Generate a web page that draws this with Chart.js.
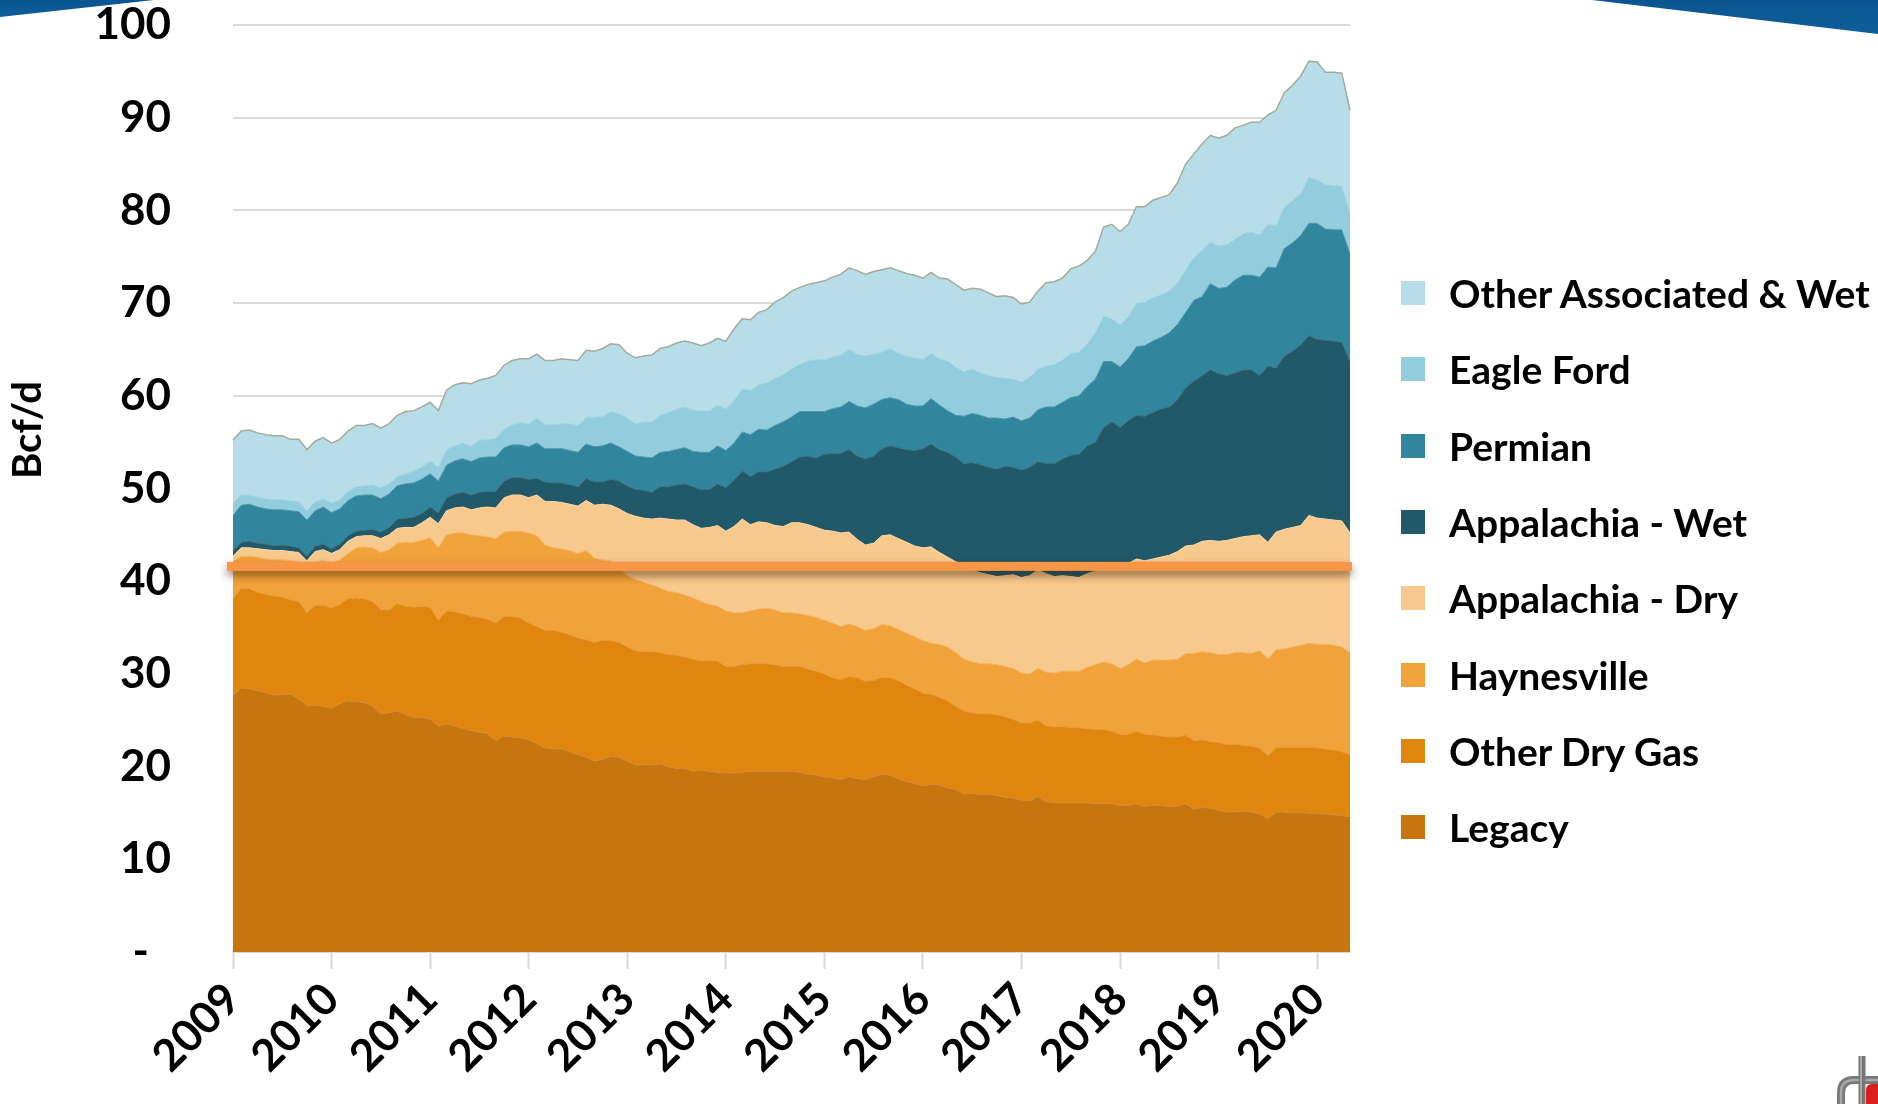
<!DOCTYPE html>
<html>
<head>
<meta charset="utf-8">
<script src="https://cdn.jsdelivr.net/npm/chart.js@4.4.1/dist/chart.umd.min.js"></script>
<style>
  html, body { margin:0; padding:0; background:#ffffff; width:1878px; height:1104px; overflow:hidden; }
  #wrap { position:relative; width:1878px; height:1104px; }
  #c { position:absolute; left:0; top:0; }
  .swl { position:absolute; left:0; top:0; width:154px; height:17px; background:linear-gradient(180deg,#0a5590,#0f5f99); clip-path:polygon(0 0,100% 0,0 100%); }
  .swr { position:absolute; left:1592px; top:0; width:286px; height:34px; background:linear-gradient(180deg,#0a5590,#0f5f99); clip-path:polygon(0 0,100% 0,100% 100%); }
  #legend { position:absolute; left:1401px; top:255px; margin:0; padding:0; list-style:none; }
  #legend li { display:flex; align-items:center; height:76.3px; }
  #legend .box { width:24px; height:24px; margin-right:24px; flex:none; }
  #legend .txt { font-family:Lato, sans-serif; font-weight:700; font-size:39px; color:#000; white-space:nowrap; }
  #logo { position:absolute; left:1830px; top:1050px; }
</style>
</head>
<body>
<div id="wrap">
  <canvas id="c" width="1878" height="1104"></canvas>
  <div class="swl"></div>
  <div class="swr"></div>
  <ul id="legend"></ul>
  <svg id="logo" width="48" height="54" viewBox="1830 1050 48 54">
    <path d="M1866,1104 V1090 Q1866,1084 1872,1084 H1878 V1104 Z" fill="#d8201f"/>
    <path d="M1841,1104 V1093 Q1841,1080 1854,1080 H1878" fill="none" stroke="#777" stroke-width="8"/>
    <path d="M1841,1104 V1093 Q1841,1080 1854,1080 H1878" fill="none" stroke="#a9a9a9" stroke-width="2.5"/>
    <line x1="1862" y1="1056" x2="1862" y2="1104" stroke="#777" stroke-width="7"/>
    <line x1="1861" y1="1056" x2="1861" y2="1104" stroke="#aaa" stroke-width="2"/>
  </svg>
</div>
<script>
// ---------- data (Bcf/d, monthly Jan 2009 – May 2020) ----------
const years = ['2009','2010','2011','2012','2013','2014','2015','2016','2017','2018','2019','2020'];
const monthNames = ['01','02','03','04','05','06','07','08','09','10','11','12'];
const yTickLabels = ['-\u2002','10','20','30','40','50','60','70','80','90','100'];
const thresholdValue = 41.6;

const legacy = [
27.7,28.5,28.4,28.2,28.0,27.7,27.8,27.8,27.3,26.6,
26.6,26.5,26.3,26.8,27.1,27.0,26.9,26.5,25.7,25.8,
26.0,25.6,25.3,25.3,25.1,24.4,24.6,24.4,24.1,23.9,
23.7,23.6,22.8,23.3,23.2,23.1,22.9,22.5,22.0,21.9,
21.9,21.6,21.3,21.0,20.6,20.8,21.1,21.0,20.6,20.2,
20.2,20.2,20.3,20.0,19.8,19.8,19.5,19.6,19.5,19.4,
19.3,19.3,19.4,19.5,19.5,19.5,19.5,19.5,19.5,19.4,
19.2,19.1,18.9,18.8,18.6,18.9,18.7,18.6,18.9,19.2,
19.1,18.7,18.4,18.2,17.9,18.1,18.0,17.7,17.5,17.1,
17.1,17.0,17.0,16.9,16.7,16.6,16.4,16.3,16.8,16.2,
16.1,16.1,16.1,16.1,16.1,16.0,16.0,16.0,15.8,15.8,
16.0,15.7,15.8,15.8,15.7,15.7,16.0,15.4,15.6,15.5,
15.3,15.1,15.1,15.2,15.1,14.9,14.4,15.1,15.1,15.0,
15.0,15.0,14.9,14.9,14.8,14.7,14.6];

const otherDryGas = [
10.4,10.7,10.8,10.6,10.6,10.7,10.5,10.2,10.5,10.0,
10.8,10.9,10.8,10.7,11.0,11.2,11.2,11.3,11.2,11.1,
11.6,11.7,11.9,12.0,12.1,11.4,12.2,12.3,12.4,12.3,
12.4,12.3,12.7,12.9,13.0,12.9,12.6,12.6,12.7,12.8,
12.6,12.6,12.6,12.7,12.8,12.8,12.5,12.4,12.3,12.3,
12.2,12.2,12.0,12.1,12.2,12.0,12.1,11.8,11.9,12.0,
11.5,11.5,11.6,11.6,11.6,11.6,11.5,11.3,11.3,11.4,
11.3,11.2,11.1,10.8,10.8,10.8,10.9,10.6,10.4,10.4,
10.5,10.6,10.4,10.2,10.0,9.7,9.5,9.4,9.0,8.9,
8.7,8.7,8.7,8.7,8.7,8.5,8.3,8.4,8.2,8.2,
8.2,8.2,8.1,8.1,8.0,8.0,8.0,7.8,7.7,7.7,
7.8,7.8,7.6,7.5,7.5,7.5,7.4,7.4,7.3,7.2,
7.3,7.3,7.3,7.1,7.1,7.1,6.8,6.9,7.0,7.1,
7.1,7.1,7.1,7.0,7.0,6.9,6.7];

const haynesville = [
4.0,3.5,3.5,3.8,3.8,3.9,4.0,4.2,4.3,4.8,
4.7,4.8,4.9,4.8,4.9,5.4,5.6,5.8,6.2,6.5,
6.5,6.9,7.0,7.1,7.5,7.8,8.2,8.5,8.7,8.8,
8.8,8.9,9.1,9.1,9.2,9.4,9.7,9.8,9.2,8.9,
9.0,9.1,9.1,9.6,9.1,8.7,8.6,8.1,7.7,7.7,
7.5,7.2,7.0,6.8,6.8,6.7,6.6,6.4,6.1,5.9,
6.0,5.8,5.6,5.7,5.9,6.0,5.9,5.8,5.8,5.7,
5.8,5.8,5.8,5.9,5.7,5.7,5.5,5.5,5.6,5.7,
5.6,5.5,5.6,5.6,5.7,5.5,5.7,5.8,5.8,5.6,
5.5,5.4,5.4,5.4,5.4,5.5,5.4,5.3,5.6,5.8,
5.8,6.0,6.1,6.1,6.6,7.0,7.3,7.3,7.1,7.5,
7.8,7.7,8.1,8.2,8.3,8.4,8.8,9.4,9.5,9.6,
9.5,9.7,9.9,10.0,10.0,10.5,10.4,10.6,10.6,10.8,
11.0,11.2,11.2,11.3,11.3,11.3,11.0];

const appalachiaDry = [
0.6,0.9,0.9,0.9,1.0,1.0,1.0,1.0,1.0,0.8,
1.1,1.2,1.0,1.1,1.3,1.2,1.2,1.3,1.5,1.6,
1.6,1.6,1.6,1.9,2.2,2.6,2.6,2.7,2.8,2.7,
3.0,3.2,3.3,3.7,3.9,3.9,3.8,4.4,4.7,5.0,
5.0,5.0,5.1,5.4,5.7,6.0,6.0,6.3,6.7,6.8,
6.9,7.1,7.5,7.8,7.8,8.1,7.9,7.9,8.3,8.7,
8.6,9.3,10.1,9.3,9.4,9.2,9.1,9.3,9.7,9.8,
9.8,9.7,9.7,9.9,10.1,9.9,9.4,9.2,9.2,9.6,
9.8,9.8,9.8,9.8,10.0,10.4,9.9,9.7,9.8,10.2,
9.9,9.8,9.6,9.5,9.8,10.1,10.3,10.6,10.6,10.6,
10.4,10.3,10.2,10.1,10.1,10.1,10.1,10.5,11.1,10.9,
10.8,11.0,10.9,11.1,11.3,11.6,11.6,11.7,11.9,12.1,
12.2,12.3,12.3,12.5,12.7,12.5,12.6,12.7,12.9,12.9,
12.9,13.8,13.6,13.5,13.5,13.6,12.9];

const appalachiaWet = [
0.6,0.6,0.7,0.6,0.6,0.5,0.6,0.6,0.5,0.5,
0.6,0.6,0.5,0.6,0.6,0.6,0.6,0.7,0.7,0.8,
1.0,1.0,1.1,1.0,1.1,1.2,1.4,1.5,1.6,1.6,
1.7,1.7,1.8,1.8,1.9,1.9,2.0,1.8,2.1,2.0,
2.1,2.1,2.1,2.4,2.5,2.4,2.8,3.0,3.0,2.9,
3.0,2.9,3.4,3.5,3.8,3.9,4.1,4.2,4.1,4.5,
4.7,5.0,5.2,5.2,5.4,5.5,6.1,6.5,6.6,7.1,
7.4,7.5,8.2,8.4,8.6,8.9,9.0,9.3,9.4,9.4,
9.6,9.8,10.0,10.3,10.7,11.1,11.1,11.3,11.3,10.9,
11.6,11.7,11.6,11.6,11.8,11.6,11.6,11.7,11.7,11.9,
12.2,12.6,13.1,13.3,13.8,13.9,15.2,15.6,14.9,15.4,
15.5,15.6,15.8,16.0,16.0,16.4,17.1,17.7,17.9,18.4,
18.1,17.8,17.9,18.0,17.9,17.2,19.0,17.7,18.7,19.0,
19.5,19.4,19.3,19.3,19.3,19.3,18.5];

const permian = [
3.8,4.0,4.0,3.9,3.8,3.9,3.8,3.8,3.9,3.9,
3.8,4.0,3.9,3.8,3.8,3.8,3.8,3.7,3.6,3.6,
3.6,3.7,3.7,3.7,3.6,3.4,3.5,3.6,3.6,3.6,
3.7,3.7,3.7,3.6,3.5,3.5,3.5,3.8,3.6,3.7,
3.7,3.7,3.7,3.7,3.8,3.9,3.9,3.7,3.7,3.6,
3.6,3.7,3.7,3.8,3.8,3.9,3.8,4.0,4.0,4.1,
4.0,4.0,4.2,4.5,4.6,4.5,4.7,4.8,4.8,4.9,
4.8,5.0,4.6,4.8,5.0,5.2,5.4,5.5,5.6,5.3,
5.2,5.2,4.9,4.8,4.6,4.9,4.8,4.5,4.5,5.1,
5.3,5.3,5.3,5.5,5.1,5.4,5.3,5.3,5.6,6.1,
6.1,6.1,6.2,6.3,6.4,6.8,7.1,6.5,6.5,6.7,
7.4,7.6,7.7,7.7,8.0,8.1,8.1,8.7,8.5,9.3,
9.2,9.5,10.0,10.2,10.2,10.6,10.7,10.8,11.6,11.7,
11.8,12.1,12.5,12.0,12.0,12.1,11.6];

const eagleFord = [
1.3,1.1,1.0,1.1,1.1,1.1,1.1,1.1,1.1,1.0,
1.0,0.9,1.0,1.0,1.0,1.0,1.0,1.1,1.2,1.1,
1.0,1.1,1.3,1.3,1.4,1.5,1.7,1.6,1.7,1.7,
1.9,1.9,2.0,2.0,2.2,2.4,2.5,2.7,2.6,2.6,
2.7,2.9,2.9,2.9,3.2,3.2,3.4,3.6,3.6,3.5,
3.8,3.9,4.0,4.2,4.4,4.4,4.5,4.5,4.5,4.4,
4.5,4.6,4.7,4.8,4.8,5.1,5.1,5.1,5.2,5.1,
5.5,5.6,5.6,5.6,5.6,5.6,5.6,5.6,5.4,5.1,
5.3,5.0,5.2,5.2,5.0,4.9,5.0,5.4,5.2,4.8,
4.8,4.6,4.6,4.4,4.4,4.1,4.2,4.4,4.4,4.4,
4.6,4.6,4.8,4.7,4.6,5.0,4.9,4.6,4.6,4.5,
4.7,4.7,4.7,4.6,4.5,4.5,4.6,4.6,5.0,4.5,
4.6,4.6,4.4,4.5,4.7,4.6,4.6,4.6,4.4,4.6,
4.5,5.0,4.7,4.8,4.8,4.7,4.5];

const otherAssociatedWet = [
6.8,6.9,7.0,6.9,6.9,6.9,6.9,6.6,6.7,6.6,
6.5,6.6,6.5,6.5,6.5,6.6,6.5,6.6,6.4,6.5,
6.6,6.7,6.5,6.5,6.3,6.1,6.4,6.6,6.5,6.7,
6.5,6.6,6.8,6.9,6.9,6.9,7.0,6.9,6.9,6.9,
7.0,6.9,7.0,7.2,7.1,7.3,7.3,7.4,7.0,7.1,
7.1,7.2,7.2,7.1,7.1,7.1,7.2,7.0,7.3,7.2,
7.3,7.7,7.5,7.6,7.8,7.9,8.2,8.3,8.4,8.3,
8.2,8.3,8.5,8.6,8.7,8.8,9.0,8.8,8.9,8.9,
8.7,8.9,8.9,8.9,8.8,8.7,8.7,8.8,8.9,8.8,
8.7,9.0,8.9,8.7,8.9,8.8,8.4,8.1,8.4,9.0,
8.9,8.8,9.1,9.3,9.0,8.8,9.6,10.2,10.0,10.0,
10.4,10.3,10.5,10.5,10.4,10.8,11.4,11.2,11.5,11.5,
11.6,11.8,12.0,11.7,11.8,12.1,11.8,12.4,12.4,12.4,
12.7,12.5,12.7,12.1,12.2,12.2,11.0];

// series in stacking order (bottom first)
const seriesNames = ['Legacy','Other Dry Gas','Haynesville','Appalachia - Dry','Appalachia - Wet','Permian','Eagle Ford','Other Associated & Wet'];
const seriesValues = [legacy, otherDryGas, haynesville, appalachiaDry, appalachiaWet, permian, eagleFord, otherAssociatedWet];
const seriesColors = ['#c6750f','#df860e','#f2a23a','#f8c98c','#215968','#31859c','#93cddd','#b7dee8'];
const seriesBorders = ['#d08a3a','#e59a3c','#f5b460','#f9d3a4','#3b7080','#4d97ab','#a6d6e3','#a3ab9b'];

// category labels: one per month
const monthLabels = [];
years.forEach(y => monthNames.forEach(m => monthLabels.push(y + '-' + m)));
monthLabels.length = legacy.length;

// ---------- plugins ----------
const thresholdPlugin = {
  id: 'thresholdLine',
  afterDatasetsDraw(chart) {
    const {ctx, chartArea: a, scales: {y}} = chart;
    const py = y.getPixelForValue(thresholdValue);
    ctx.save();
    ctx.shadowColor = 'rgba(60,30,0,0.55)';
    ctx.shadowBlur = 9;
    ctx.shadowOffsetY = 5;
    ctx.fillStyle = '#f79646';
    ctx.fillRect(a.left - 6, py - 4.5, a.right - a.left + 8, 9);
    ctx.restore();
  }
};
const yTitlePlugin = {
  id: 'yTitle',
  afterDraw(chart) {
    const ctx = chart.ctx;
    ctx.save();
    ctx.translate(28, 430);
    ctx.rotate(-Math.PI / 2);
    ctx.font = 'bold 40px Lato';
    ctx.fillStyle = '#000';
    ctx.textAlign = 'center';
    ctx.textBaseline = 'middle';
    ctx.fillText('Bcf/d', 0, 0);
    ctx.restore();
  }
};

function build() {
  const datasets = seriesNames.map((name, k) => ({
    label: name,
    data: seriesValues[k],
    backgroundColor: seriesColors[k],
    borderColor: seriesBorders[k],
    borderWidth: k === seriesNames.length - 1 ? 1.5 : 1,
    fill: k === 0 ? 'origin' : '-1',
    pointRadius: 0,
    tension: 0
  }));

  const tickFont = {family: 'Lato', weight: 'bold', size: 44};
  const chart = new Chart(document.getElementById('c').getContext('2d'), {
    type: 'line',
    data: {labels: monthLabels, datasets},
    options: {
      responsive: false,
      animation: false,
      layout: {padding: {left: 0, right: 528, top: 0, bottom: 0}},
      plugins: {legend: {display: false}, tooltip: {enabled: false}},
      scales: {
        x: {
          type: 'category',
          offset: false,
          grid: {
            drawOnChartArea: false,
            drawTicks: true,
            tickLength: 17,
            tickWidth: 2,
            tickColor: (c) => (c.index % 12 === 0 ? '#d9d9d9' : 'rgba(0,0,0,0)')
          },
          border: {display: true, color: '#dcd6cc', width: 2},
          ticks: {
            autoSkip: false,
            minRotation: 45,
            maxRotation: 45,
            padding: 4,
            color: '#000',
            font: tickFont,
            callback: (v, i) => (i % 12 === 0 ? years[i / 12] : '')
          },
          afterFit: (s) => { s.height = 152; }
        },
        y: {
          stacked: true,
          min: 0,
          max: 100,
          ticks: {
            stepSize: 10,
            padding: 62,
            color: '#000',
            font: tickFont,
            callback: (v, i) => yTickLabels[i]
          },
          grid: {color: '#d9d9d9', lineWidth: 2, drawTicks: false},
          border: {display: false},
          afterFit: (s) => { s.width = 233; s.paddingTop = 25; s.paddingBottom = 0; }
        }
      }
    },
    plugins: [thresholdPlugin, yTitlePlugin]
  });

  // HTML legend generated from the chart's own legend items (top series first)
  const ul = document.getElementById('legend');
  const items = chart.options.plugins.legend.labels.generateLabels(chart).slice().reverse();
  items.forEach(it => {
    const li = document.createElement('li');
    const box = document.createElement('span');
    box.className = 'box';
    box.style.background = it.fillStyle;
    const txt = document.createElement('span');
    txt.className = 'txt';
    txt.textContent = it.text;
    li.appendChild(box);
    li.appendChild(txt);
    ul.appendChild(li);
  });
}

Promise.all([
  document.fonts.load('bold 44px Lato'),
  document.fonts.load('bold 39px Lato')
]).then(build, build);
</script>
</body>
</html>
